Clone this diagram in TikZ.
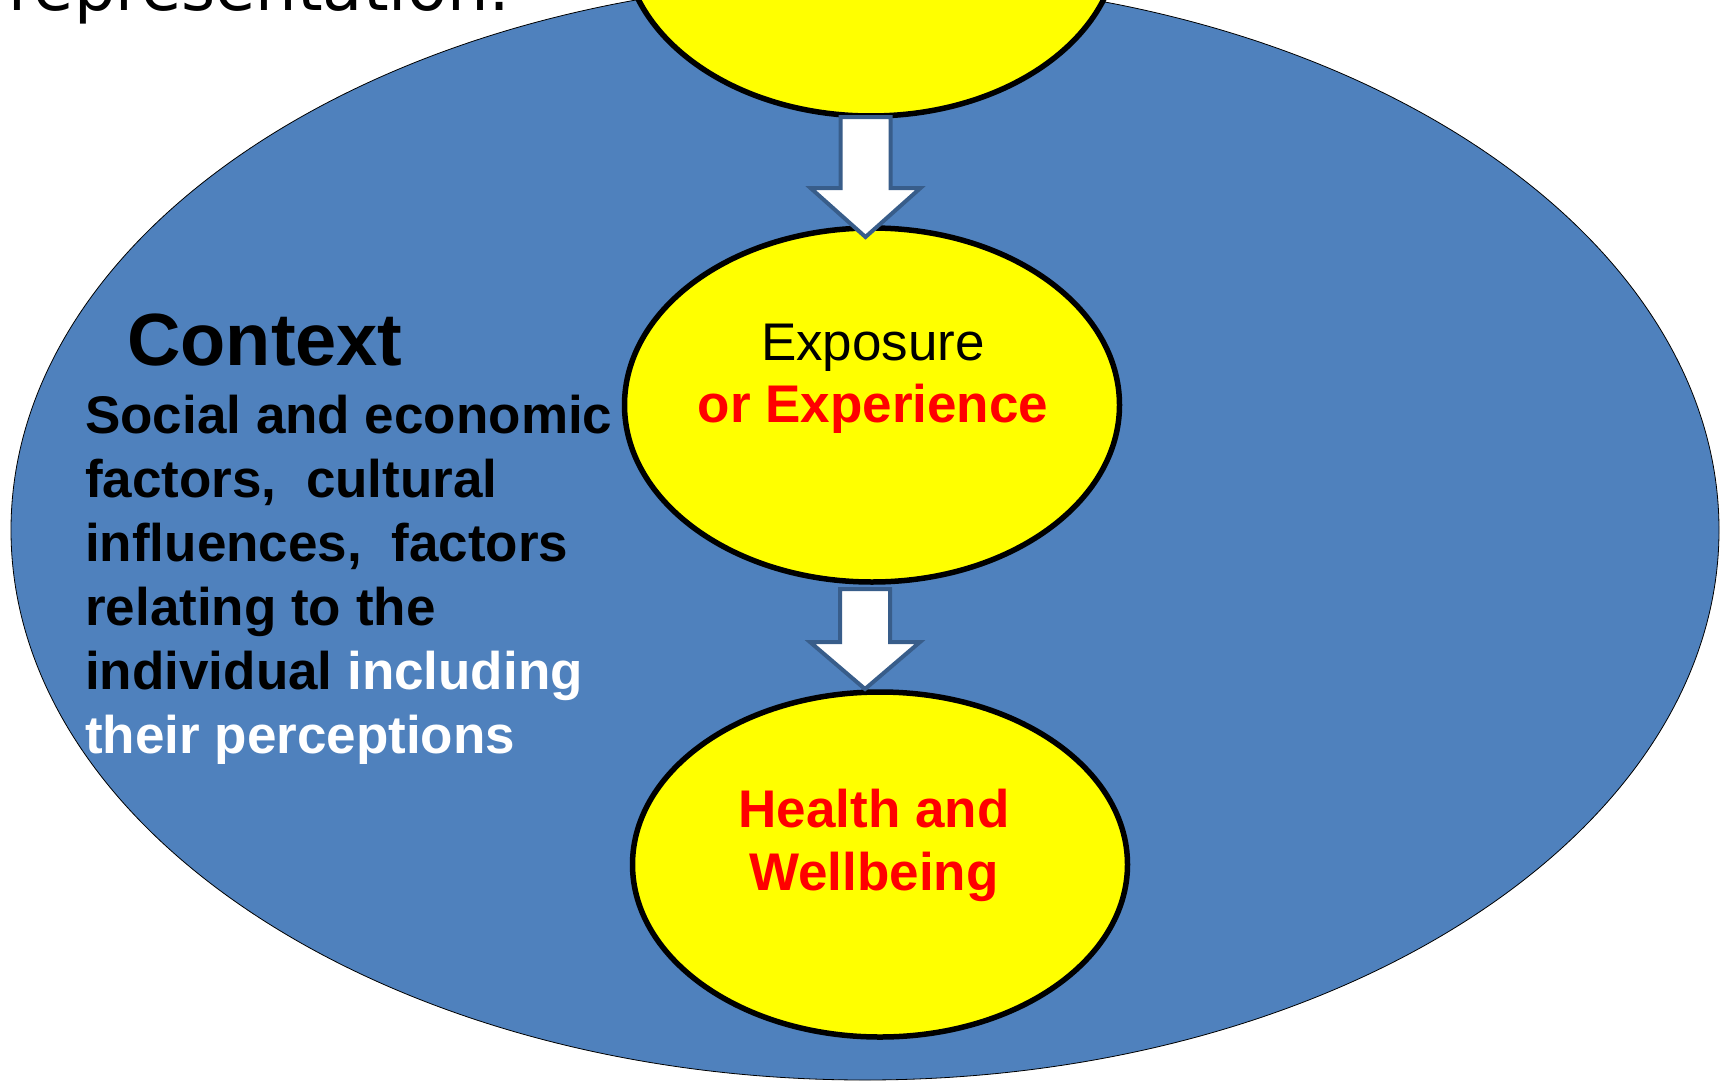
\documentclass[tikz,border=0pt]{standalone}
\usepackage{fontspec}
\setmainfont{Liberation Sans}
\newfontfamily\titlefont{DejaVu Sans}
\usetikzlibrary{shapes.geometric}
\definecolor{ctxblue}{HTML}{4F81BD}
\definecolor{arrowedge}{HTML}{385D8A}
\definecolor{hotred}{HTML}{FF0000}
\definecolor{brightyellow}{HTML}{FFFF00}
\begin{document}
\begin{tikzpicture}[x=1pt,y=-1pt,
  bigell/.style={ellipse, draw=black, line width=0.8pt, fill=ctxblue, inner sep=0pt,
                 minimum width=1708pt, minimum height=1100pt},
  yell/.style={ellipse, draw=black, line width=5.5pt, fill=brightyellow, inner sep=0pt},
  blockarr/.style={draw=arrowedge, fill=white, line width=4pt, line join=miter},
  lbl/.style={font=\fontsize{53}{62}\selectfont, align=center, inner sep=0pt, anchor=base}
]
\useasboundingbox (0,0) rectangle (1721,1081);
\fill[white] (0,0) rectangle (1721,1081);

\node[bigell] (context) at (865,530) {};
\node[yell, minimum width=495pt, minimum height=354pt] (top) at (871,-61) {};
\node[yell, minimum width=495pt, minimum height=354pt] (exposure) at (872,405) {};
\node[yell, minimum width=495pt, minimum height=345pt] (health) at (880,864.5) {};

\coordinate (a1s) at (865.5,117);
\coordinate (a1t) at (865.5,237);
\draw[blockarr] (a1s) ++(-25,0) -- ++(50,0) -- ++(0,71) -- ++(30,0) -- (a1t)
  -- ++(-55,-49) -- ++(30,0) -- cycle;

\coordinate (a2s) at (865,589);
\coordinate (a2t) at (865,689);
\draw[blockarr] (a2s) ++(-25,0) -- ++(50,0) -- ++(0,53) -- ++(30,0) -- (a2t)
  -- ++(-55,-47) -- ++(30,0) -- cycle;

\node[font=\titlefont\fontsize{65.5}{78}\selectfont, anchor=base west, inner sep=0pt] (title) at (8,11) {representation:};
\node[font=\bfseries\fontsize{74}{88}\selectfont, anchor=base west, inner sep=0pt] (ctxhead) at (127,365) {Context};
\node[font=\bfseries\fontsize{53}{64}\selectfont, anchor=base west, align=left, inner sep=0pt] (ctxbody) at (85,753)
  {Social and economic\\factors,\ \ cultural\\influences,\ \ factors\\relating to the\\individual \textcolor{white}{including}\\\textcolor{white}{their perceptions}};

\node[lbl] (exptext) at (873,422) {Exposure\\\textbf{\textcolor{hotred}{or Experience}}};
\node[lbl, font=\bfseries\fontsize{53}{63}\selectfont, text=hotred] (healthtext) at (874,890) {Health and\\Wellbeing};
\end{tikzpicture}
\end{document}
